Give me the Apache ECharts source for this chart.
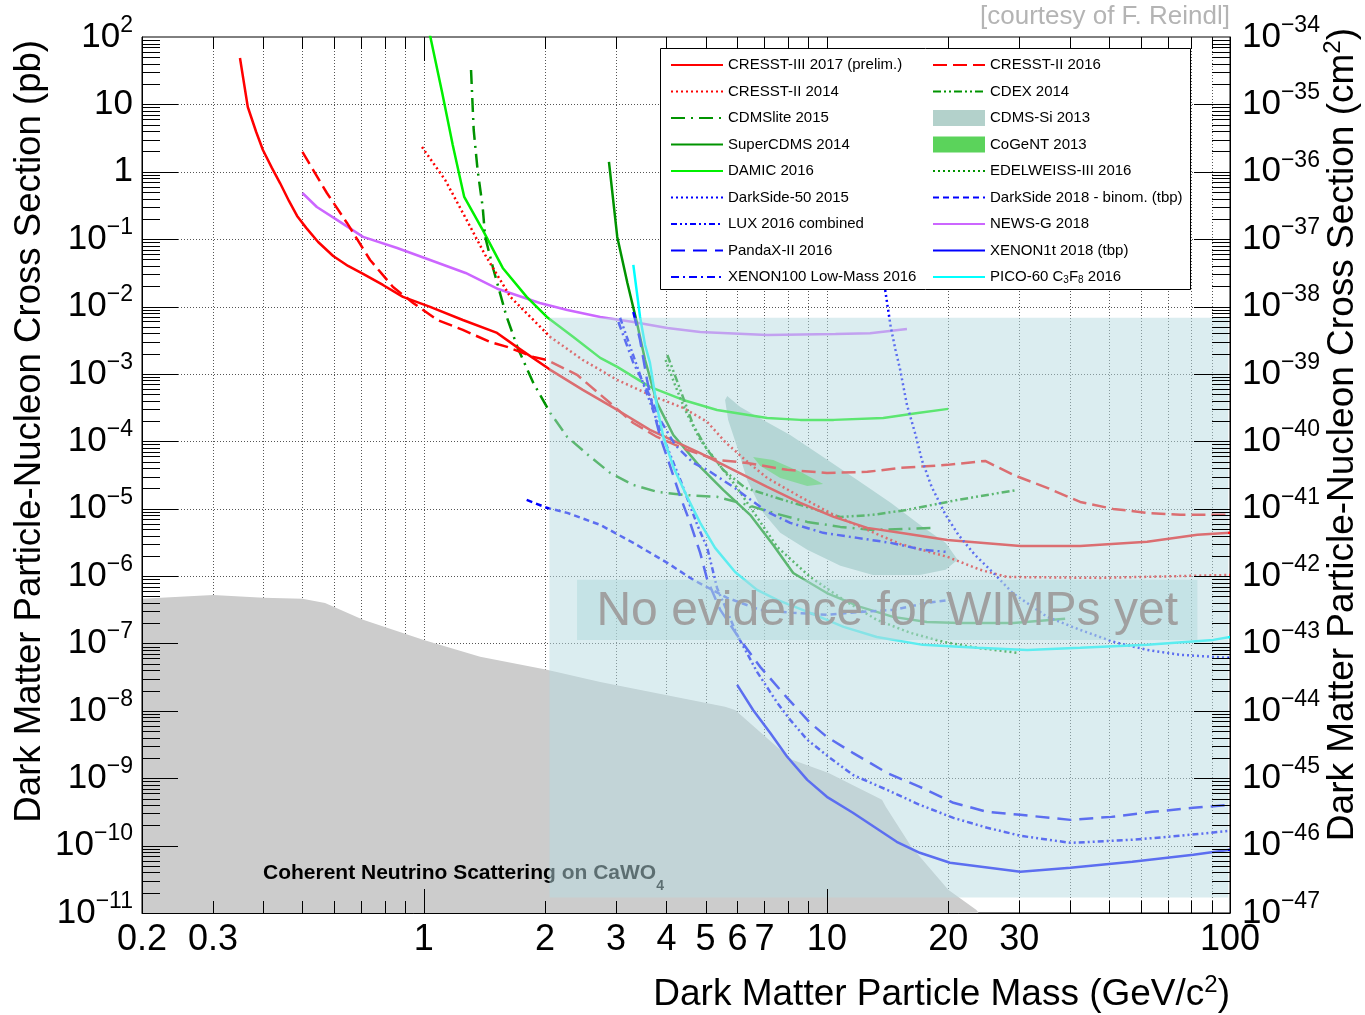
<!DOCTYPE html>
<html>
<head>
<meta charset="utf-8">
<script src="https://cdn.jsdelivr.net/npm/echarts@6/dist/echarts.min.js"></script>
<style>html,body{margin:0;padding:0;background:#fff}#chart{width:1365px;height:1015px}</style>
</head>
<body>
<div id="chart"></div>
<script>
var FONT = 'Liberation Sans, Arial, Helvetica, sans-serif';
var Y_MIN = 1e-11, Y_MAX = 100, X_MIN = 0.2, X_MAX = 100;
var PB_TO_CM2_EXP = -36; // 1 pb = 1e-36 cm^2

// exclusion curves: [mass GeV, cross section pb]
var cresst3_2017 = [[0.35,48.8],[0.366,9.15],[0.384,3.89],[0.399,2.1],[0.42,1.14],[0.44,0.68],[0.463,0.369],[0.485,0.221],[0.511,0.147],[0.547,0.0908],[0.596,0.0563],[0.649,0.04],[0.707,0.0305],[0.792,0.0209],[0.888,0.0139],[1.037,0.00986],[1.25,0.00632],[1.52,0.00406],[1.70,0.00252],[2.06,0.00115],[2.48,5.8e-4],[3.02,2.92e-4],[3.64,1.48e-4],[4.85,6.7e-5],[5.86,3.77e-5],[7.11,2.1e-5],[8.59,1.22e-5],[10.4,7.55e-6],[12.6,5.19e-6],[15.2,4.38e-6],[19.9,3.44e-6],[30.2,2.8e-6],[42.5,2.8e-6],[62.3,3.22e-6],[83,4.09e-6],[100,4.38e-6]];
var cresst2_2016 = [[0.5,1.97],[0.575,0.484],[0.645,0.174],[0.736,0.0491],[0.839,0.0195],[0.941,0.0113],[1.08,0.00632],[1.25,0.0045],[1.46,0.00298],[1.61,0.00252],[1.87,0.00179],[2.02,0.00161],[2.40,9.7e-4],[2.90,3.7e-4],[3.31,1.87e-4],[3.79,1.16e-4],[4.50,7.45e-5],[5.34,5.3e-5],[6.34,4.78e-5],[7.97,3.77e-5],[10.0,3.4e-5],[12.6,3.52e-5],[15.2,4.03e-5],[19.9,4.47e-5],[24.7,5.12e-5],[29.0,3.17e-5],[35.2,2.04e-5],[42.5,1.26e-5],[51.3,9.93e-6],[62.3,8.67e-6],[75.3,8.1e-6],[100,8.1e-6]];
var cresst2_2014 = [[0.99,2.33],[1.13,0.755],[1.27,0.206],[1.42,0.0583],[1.64,0.0139],[1.87,0.00632],[2.06,0.00354],[2.48,0.00161],[3.02,8.15e-4],[3.64,4.88e-4],[4.40,3.13e-4],[5.05,1.94e-4],[5.59,9.8e-5],[6.27,5.3e-5],[7.11,2.86e-5],[8.59,1.5e-5],[10.4,8.1e-6],[12.6,4.84e-6],[15.2,3.0e-6],[19.9,1.93e-6],[24.0,1.24e-6],[28.0,9.7e-7],[47.7,9.4e-7],[100,1.04e-6]];
var cdex2014 = [[4.02,0.00191],[4.33,5.8e-4],[4.66,1.75e-4],[5.05,7.45e-5],[5.53,3.77e-5],[6.27,2.04e-5],[7.79,1.35e-5],[10.8,7.55e-6],[13.0,8.1e-6],[15.8,9.6e-6],[21.1,1.35e-5],[29.7,1.9e-5]];
var cdmslite2015 = [[1.31,32.4],[1.33,4.17],[1.36,1.06],[1.40,0.30],[1.42,0.108],[1.49,0.0349],[1.60,0.0075],[1.71,0.00243],[1.87,7.35e-4],[2.06,2.64e-4],[2.27,1.16e-4],[2.59,5.87e-5],[2.90,3.4e-5],[3.31,2.25e-5],[3.79,1.78e-5],[4.40,1.6e-5],[5.34,1.5e-5],[6.10,1.22e-5],[7.36,8.67e-6],[8.94,6.37e-6],[10.8,5.37e-6],[13.0,4.84e-6],[18.6,5.19e-6]];
var supercdms2014 = [[2.88,1.40],[3.02,0.108],[3.20,0.0224],[3.38,0.00571],[3.54,0.00161],[3.79,3.72e-4],[4.16,1.24e-4],[4.85,4.17e-5],[5.53,1.9e-5],[6.45,8.1e-6],[7.36,2.9e-6],[8.25,1.11e-6],[10.0,5.6e-7],[12.1,3.49e-7],[14.6,2.48e-7],[17.7,2.09e-7],[21.4,2.02e-7],[29.0,2.02e-7],[39.0,2.32e-7]];
var damic2016 = [[1.025,145],[1.11,15.3],[1.18,2.5],[1.26,0.423],[1.40,0.137],[1.57,0.0374],[1.80,0.0139],[2.02,0.00701],[2.35,0.00354],[2.74,0.00173],[3.02,0.00127],[3.64,6.41e-4],[4.40,4.11e-4],[5.34,2.92e-4],[7.11,2.22e-4],[8.59,2.08e-4],[10.4,2.08e-4],[13.8,2.22e-4],[16.8,2.64e-4],[20,3.03e-4]];
var edelweiss2016 = [[3.98,0.00161],[4.2,6.87e-4],[4.45,2.92e-4],[4.85,1.05e-4],[5.34,4.95e-5],[5.92,2.25e-5],[6.45,1.06e-5],[7.53,2.71e-6],[9.09,9.7e-7],[11.0,4.44e-7],[13.3,2.24e-7],[16.1,1.44e-7],[19.4,1.06e-7],[23.6,8.61e-8],[29.7,7.26e-8]];
var darkside50 = [[13.95,0.0176],[14.4,0.00498],[14.8,0.00227],[15.2,0.00115],[15.8,3.47e-4],[16.6,1.24e-4],[17.2,5.3e-5],[18.2,2.1e-5],[19.7,8.1e-6],[21.2,4.09e-6],[23.3,2.06e-6],[25.9,1.11e-6],[28.9,5.6e-7],[35.2,2.48e-7],[42.5,1.59e-7],[51.3,1.06e-7],[62.3,8.03e-8],[75.3,6.78e-8],[100,6.11e-8]];
var darkside2018 = [[1.80,1.35e-5],[2.02,1.03e-5],[2.27,8.67e-6],[2.74,5.75e-6],[3.31,3.11e-6],[4.02,1.57e-6],[4.66,8.8e-7],[5.66,4.75e-7],[6.83,3.15e-7],[8.25,2.85e-7],[10.0,2.66e-7],[12.1,2.94e-7],[14.6,3.15e-7],[17.7,4.0e-7],[20,4.4e-7]];
var lux2016 = [[3.07,0.00678],[3.44,9.66e-4],[3.86,1.48e-4],[4.33,2.67e-5],[4.77,5.75e-6],[5.05,2.62e-6],[5.34,6.68e-7],[5.99,1.34e-7],[6.71,3.79e-8],[7.53,1.32e-8],[8.11,7.35e-9],[8.94,3.72e-9],[10.1,2.08e-9],[11.6,1.12e-9],[14.1,6.73e-10],[17.0,4.03e-10],[20.6,2.58e-10],[25.0,1.84e-10],[30.2,1.4e-10],[40.2,1.1e-10],[57.2,1.22e-10],[75.3,1.4e-10],[100,1.66e-10]];
var pandax2016 = [[3.31,0.0083],[3.44,0.00319],[3.58,8.15e-4],[3.71,2.92e-4],[3.86,1.16e-4],[4.09,4.17e-5],[4.33,1.5e-5],[4.58,6.16e-6],[4.85,2.21e-6],[5.05,8.8e-7],[5.44,3.15e-7],[6.10,1.13e-7],[6.83,4.5e-8],[7.97,1.56e-8],[9.09,6.64e-9],[10.0,4.11e-9],[11.6,2.38e-9],[14.1,1.2e-9],[17.0,7.45e-10],[20.6,4.32e-10],[25.0,3.17e-10],[30.2,2.86e-10],[40.2,2.41e-10],[50.8,2.67e-10],[64.2,3.17e-10],[81.1,3.64e-10],[100,4.03e-10]];
var xenon100_2016 = [[3.04,0.0059],[3.31,0.00146],[3.58,5.8e-4],[3.86,2.08e-4],[4.2,8.85e-5],[4.66,4.78e-5],[5.05,3.77e-5],[5.86,2.1e-5],[7.11,8.97e-6],[8.11,6.16e-6],[9.79,4.38e-6],[11.9,3.69e-6],[14.4,3.11e-6],[17.3,2.45e-6],[19.7,2.29e-6]];
var xenon1t2018 = [[5.99,2.43e-8],[6.56,1.03e-8],[7.23,4.72e-9],[7.97,2.08e-9],[8.94,9.46e-10],[10.0,5.3e-10],[11.6,3.07e-10],[14.9,1.14e-10],[17.0,7.82e-11],[20.2,5.56e-11],[30.2,4.08e-11],[40.2,4.69e-11],[57.2,5.75e-11],[81.1,7.31e-11],[100,8.67e-11]];
var pico60_2016 = [[3.31,0.0414],[3.44,0.00701],[3.54,0.00269],[3.64,0.00146],[3.79,3.24e-4],[3.93,1.16e-4],[4.16,4.17e-5],[4.50,1.5e-5],[4.85,6.16e-6],[5.28,2.62e-6],[5.92,1.15e-6],[6.71,6.24e-7],[7.53,4.44e-7],[9.09,2.85e-7],[11.0,1.76e-7],[13.3,1.25e-7],[17.3,9.53e-8],[23.6,8.61e-8],[31.4,8.03e-8],[42.5,8.61e-8],[62.3,9.53e-8],[90.9,1.13e-7],[100,1.25e-7]];
var newsg2018 = [[0.5,0.484],[0.543,0.30],[0.609,0.193],[0.707,0.108],[0.859,0.074],[1.037,0.0491],[1.27,0.0315],[1.53,0.0182],[1.94,0.0113],[2.27,0.0089],[2.74,0.00701],[3.31,0.0059],[4.02,0.00481],[4.85,0.0042],[7.11,0.00379],[10.5,0.0039],[12.8,0.004],[15.8,0.00466]];

// signal regions (closed contours)
var cdmsSi2013 = [[5.66,4.72e-4],[6.10,3.24e-4],[6.95,2.08e-4],[8.11,1.24e-4],[9.79,5.87e-5],[11.9,2.67e-5],[14.4,1.22e-5],[17.3,5.37e-6],[19.7,3.11e-6],[21.1,1.74e-6],[19.7,1.24e-6],[17.0,1.04e-6],[13.0,1.04e-6],[10.8,1.42e-6],[8.94,2.45e-6],[7.66,4.38e-6],[6.95,8.67e-6],[6.34,2.67e-5],[5.99,8.26e-5],[5.69,2.08e-4],[5.59,4.11e-4]];
var cogent2013 = [[6.56,5.87e-5],[7.36,5.3e-5],[8.59,3.52e-5],[9.79,2.33e-5],[8.94,2.18e-5],[7.66,2.86e-5],[6.83,4.32e-5]];

// coherent neutrino scattering floor on CaWO4
var neutrinoFloor = [[0.2,4.6e-7],[0.3,5.26e-7],[0.4,4.75e-7],[0.5,4.6e-7],[0.569,4.0e-7],[0.707,2.24e-7],[1.0,1.13e-7],[1.38,6.33e-8],[2.02,4.06e-8],[2.74,2.69e-8],[5.59,1.15e-8],[5.92,1.03e-8],[7.66,2.64e-9],[8.2,1.88e-9],[10.1,1.2e-9],[13.7,4.78e-10],[14.0,3.77e-10],[16.2,9.6e-11],[20,2.21e-11],[23.5,1.11e-11],[23.8,1e-11]];

// "no evidence" boxes [xmin, ymin, xmax, ymax]
var noEvidenceBox = [2.05, 1.7e-11, 99, 6.8e-3];
var noEvidenceLabelBox = [2.4, 1.13e-7, 83, 8.8e-7];

// axis ticks / labels
var xLabels = [0.2, 0.3, 1, 2, 3, 4, 5, 6, 7, 10, 20, 30, 100];
var xMajor = [1, 10];
var xMinor = [0.3,0.4,0.5,0.6,0.7,0.8,0.9,2,3,4,5,6,7,8,9,20,30,40,50,60,70,80,90];
var yMajor = [], yMinor = [];
for (var k = -11; k <= 1; k++) {
  if (k > -11) yMajor.push(Number(Math.pow(10, k).toPrecision(3)));
  for (var m = 2; m <= 9; m++) yMinor.push(Number((m * Math.pow(10, k)).toPrecision(3)));
}
yMajor.push(10);

var leftLegend = ['CRESST-III 2017 (prelim.)','CRESST-II 2014','CDMSlite 2015','SuperCDMS 2014','DAMIC 2016','DarkSide-50 2015','LUX 2016 combined','PandaX-II 2016','XENON100 Low-Mass 2016'];
var rightLegend = ['CRESST-II 2016','CDEX 2014',
  {name: 'CDMS-Si 2013', icon: 'rect', itemStyle: {opacity: 1}},
  {name: 'CoGeNT 2013', icon: 'rect', itemStyle: {opacity: 1}},
  'EDELWEISS-III 2016','DarkSide 2018 - binom. (tbp)','NEWS-G 2018','XENON1t 2018 (tbp)','PICO-60 C3F8 2016'];

var RED = '#ff0000', DGREEN = '#009300', LGREEN = '#00f000', BLUE = '#0000ff', VIOLET = '#cc66ff', CYAN = '#00ffff';

function line(name, data, color, dash) {
  return {
    type: 'line', name: name, data: data, symbol: 'none', z: 5, silent: true,
    lineStyle: {color: color, width: 2.5, type: dash || 'solid'},
    itemStyle: {color: color}
  };
}

function polygon(name, pts, color) {
  return {
    type: 'custom', name: name, z: 4, silent: true,
    itemStyle: {color: color},
    data: [pts[0]],
    renderItem: function (params, api) {
      return {type: 'polygon', shape: {points: pts.map(function (p) { return api.coord(p); })}, style: {fill: color}};
    }
  };
}

function rectOf(api) {
  var a = api.coord([api.value(0), api.value(1)]);
  var b = api.coord([api.value(2), api.value(3)]);
  return {x: a[0], y: b[1], width: b[0] - a[0], height: a[1] - b[1]};
}

function hv(v) { return Math.round(v) + 0.5; }

var supRich = {
  b: {fontSize: 35, lineHeight: 46, fontFamily: FONT, color: '#000'},
  s: {fontSize: 23, lineHeight: 23, verticalAlign: 'top', fontFamily: FONT, color: '#000'}
};
function powText(e) {
  if (e === 0) return '{b|1}';
  if (e === 1) return '{b|10}';
  return '{b|10}{s|' + (e < 0 ? '\u2212' + (-e) : e) + '}';
}
function pbLabel(v) { return powText(Math.round(Math.log10(v))); }
function cm2Label(v) { return powText(Math.round(Math.log10(v)) + PB_TO_CM2_EXP); }

var legendBase = {
  orient: 'vertical', top: 57, padding: 0, itemWidth: 52, itemHeight: 16, itemGap: 10.5,
  selectedMode: false, z: 60, itemStyle: {opacity: 0},
  textStyle: {fontSize: 15, fontFamily: FONT, color: '#000', lineHeight: 16,
    rich: {sub: {fontSize: 10, lineHeight: 6, verticalAlign: 'bottom', fontFamily: FONT, color: '#000'}}},
  formatter: function (n) { return n === 'PICO-60 C3F8 2016' ? 'PICO-60 C{sub|3}F{sub|8} 2016' : n; }
};

var chart = echarts.init(document.getElementById('chart'));
var option = {
  animation: false,
  backgroundColor: '#fff',
  textStyle: {fontFamily: FONT},
  grid: {left: 142, right: 135, top: 37, bottom: 102, show: true, borderColor: '#000', borderWidth: 1, backgroundColor: 'transparent'},
  legend: [
    Object.assign({}, legendBase, {left: 670, data: leftLegend}),
    Object.assign({}, legendBase, {left: 932, data: rightLegend})
  ],
  xAxis: {
    type: 'log', logBase: 10, min: X_MIN, max: X_MAX, z: 40,
    axisLine: {show: true, lineStyle: {color: '#000', width: 1}},
    axisTick: {show: false}, splitLine: {show: false},
    axisLabel: {customValues: xLabels, margin: 9, fontSize: 36, color: '#000', fontFamily: FONT,
      formatter: function (v) { return String(Number(Number(v).toPrecision(3))); }}
  },
  yAxis: [{
    type: 'log', logBase: 10, min: Y_MIN, max: Y_MAX, interval: 1, z: 40,
    axisLine: {show: true, lineStyle: {color: '#000', width: 1}},
    axisTick: {show: false}, splitLine: {show: false},
    axisLabel: {margin: 9, formatter: pbLabel, rich: supRich}
  }, {
    // same scale as the left axis, labelled in cm^2
    type: 'log', logBase: 10, min: Y_MIN, max: Y_MAX, interval: 1, position: 'right', z: 40,
    axisLine: {show: true, lineStyle: {color: '#000', width: 1}},
    axisTick: {show: false}, splitLine: {show: false},
    axisLabel: {margin: 12, formatter: cm2Label, rich: supRich}
  }],
  graphic: [
    {type: 'rect', shape: {x: 660.5, y: 48.5, width: 530, height: 241}, style: {fill: '#fff', stroke: '#000', lineWidth: 1}, z: 50},
    {type: 'text', x: 1230, y: 17, z: 50, style: {text: '[courtesy of F. Reindl]', fill: '#b4b4b4', font: '26px ' + FONT, align: 'right', verticalAlign: 'middle'}},
    {type: 'text', x: 1230, y: 995, z: 50, style: {text: '{a|Dark Matter Particle Mass (GeV/c}{s|2}{a|)}', align: 'right', verticalAlign: 'middle',
      rich: {a: {fontSize: 37, lineHeight: 44, fontFamily: FONT, fill: '#000'}, s: {fontSize: 24, lineHeight: 24, verticalAlign: 'top', fontFamily: FONT, fill: '#000'}}}},
    {type: 'text', x: 30, y: 40, rotation: Math.PI / 2, z: 50, style: {text: 'Dark Matter Particle-Nucleon Cross Section (pb)', fill: '#000', font: '36.6px ' + FONT, align: 'right', verticalAlign: 'middle'}},
    {type: 'text', x: 1343, y: 28, rotation: Math.PI / 2, z: 50, style: {text: '{a|Dark Matter Particle-Nucleon Cross Section (cm}{s|2}{a|)}', align: 'right', verticalAlign: 'middle',
      rich: {a: {fontSize: 37, lineHeight: 44, fontFamily: FONT, fill: '#000'}, s: {fontSize: 24, lineHeight: 24, verticalAlign: 'top', fontFamily: FONT, fill: '#000'}}}},
    {type: 'text', x: 263, y: 873, z: 3, style: {text: '{a|Coherent Neutrino Scattering on CaWO}{s|4}', align: 'left', verticalAlign: 'middle',
      rich: {a: {fontSize: 21, fontWeight: 'bold', lineHeight: 40, fontFamily: FONT, fill: '#000'}, s: {fontSize: 14, fontWeight: 'bold', lineHeight: 10, verticalAlign: 'bottom', fontFamily: FONT, fill: '#000'}}}}
  ],
  series: [
    // dotted grid
    {type: 'custom', z: 1, silent: true, data: xMinor.concat(xMajor).map(function (v) { return [v, 1]; }),
      renderItem: function (p, api) {
        var v = api.value(0), b = api.coord([v, Y_MIN]), t = api.coord([v, Y_MAX]);
        return {type: 'line', shape: {x1: hv(b[0]), y1: b[1], x2: hv(b[0]), y2: t[1]}, style: {stroke: '#555', lineWidth: 1, lineDash: [1, 2]}};
      }},
    {type: 'custom', z: 1, silent: true, data: yMajor.map(function (v) { return [1, v]; }),
      renderItem: function (p, api) {
        var v = api.value(1), l = api.coord([X_MIN, v]), r = api.coord([X_MAX, v]);
        return {type: 'line', shape: {x1: l[0], y1: hv(l[1]), x2: r[0], y2: hv(l[1])}, style: {stroke: '#555', lineWidth: 1, lineDash: [1, 2]}};
      }},
    {type: 'line', name: 'neutrino', data: neutrinoFloor, symbol: 'none', z: 2, silent: true,
      lineStyle: {width: 0}, areaStyle: {color: '#cccccc', opacity: 1, origin: 'start'}},
    polygon('CDMS-Si 2013', cdmsSi2013, '#b3d1cb'),
    polygon('CoGeNT 2013', cogent2013, '#5bd35b'),
    line('NEWS-G 2018', newsg2018, VIOLET),
    line('DAMIC 2016', damic2016, LGREEN),
    line('CDMSlite 2015', cdmslite2015, DGREEN, [14, 6, 2, 6]),
    line('SuperCDMS 2014', supercdms2014, DGREEN),
    line('CDEX 2014', cdex2014, DGREEN, [8, 3, 2, 3, 2, 3]),
    line('EDELWEISS-III 2016', edelweiss2016, DGREEN, [2, 3]),
    line('CRESST-II 2014', cresst2_2014, RED, [2, 3]),
    line('CRESST-II 2016', cresst2_2016, RED, [14, 6]),
    line('CRESST-III 2017 (prelim.)', cresst3_2017, RED),
    line('DarkSide-50 2015', darkside50, BLUE, [2, 3]),
    line('DarkSide 2018 - binom. (tbp)', darkside2018, BLUE, [6, 4]),
    line('LUX 2016 combined', lux2016, BLUE, [6, 3, 2, 3, 2, 3]),
    line('PandaX-II 2016', pandax2016, BLUE, [14, 8]),
    line('XENON100 Low-Mass 2016', xenon100_2016, BLUE, [8, 4, 2, 4]),
    line('XENON1t 2018 (tbp)', xenon1t2018, BLUE),
    line('PICO-60 C3F8 2016', pico60_2016, CYAN),
    // translucent overlays
    {type: 'custom', z: 20, silent: true, data: [noEvidenceBox], encode: {x: [0, 2], y: [1, 3]},
      renderItem: function (p, api) {
        return {type: 'rect', shape: rectOf(api), style: {fill: 'rgba(183,220,225,0.5)'}};
      }},
    {type: 'custom', z: 21, silent: true, data: [noEvidenceLabelBox], encode: {x: [0, 2], y: [1, 3]},
      renderItem: function (p, api) {
        var r = rectOf(api);
        return {type: 'group', children: [
          {type: 'rect', shape: r, style: {fill: 'rgba(175,217,220,0.5)'}},
          {type: 'text', x: r.x + r.width / 2, y: r.y + r.height / 2 + 2, style: {text: 'No evidence for WIMPs yet', fill: '#a0a0a0', font: '48px ' + FONT, align: 'center', verticalAlign: 'middle'}}
        ]};
      }},
    // ROOT-style ticks
    {type: 'custom', z: 30, silent: true, data: xMinor.concat(xMajor).map(function (v) { return [v, 1]; }),
      renderItem: function (p, api) {
        var v = api.value(0), len = xMajor.indexOf(v) >= 0 ? 24 : 12;
        var b = api.coord([v, Y_MIN]), t = api.coord([v, Y_MAX]), x = hv(b[0]);
        return {type: 'group', children: [
          {type: 'line', shape: {x1: x, y1: b[1], x2: x, y2: b[1] - len}, style: {stroke: '#000', lineWidth: 1}},
          {type: 'line', shape: {x1: x, y1: t[1], x2: x, y2: t[1] + len}, style: {stroke: '#000', lineWidth: 1}}
        ]};
      }},
    {type: 'custom', z: 30, silent: true, data: yMinor.concat(yMajor).map(function (v) { return [1, v]; }),
      renderItem: function (p, api) {
        var v = api.value(1), len = yMajor.indexOf(v) >= 0 ? 36 : 18;
        var l = api.coord([X_MIN, v]), r = api.coord([X_MAX, v]), y = hv(l[1]);
        return {type: 'group', children: [
          {type: 'line', shape: {x1: l[0], y1: y, x2: l[0] + len, y2: y}, style: {stroke: '#000', lineWidth: 1}},
          {type: 'line', shape: {x1: r[0], y1: y, x2: r[0] - len, y2: y}, style: {stroke: '#000', lineWidth: 1}}
        ]};
      }}
  ]
};
chart.setOption(option);
</script>
</body>
</html>
